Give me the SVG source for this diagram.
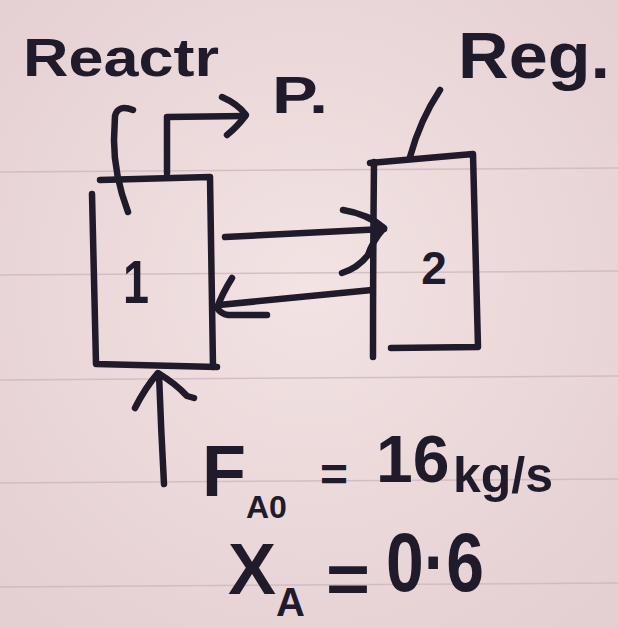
<svg xmlns="http://www.w3.org/2000/svg" width="618" height="628" viewBox="0 0 618 628">
  <defs>
    <radialGradient id="paper" cx="50%" cy="45%" r="70%">
      <stop offset="0" stop-color="#f3e3e3"/>
      <stop offset="1" stop-color="#e4cfd2"/>
    </radialGradient>
    <style>
      .ink { fill: none; stroke: #201b2a; stroke-width: 6.5; stroke-linecap: round; stroke-linejoin: round; }
      .rule { stroke: #c9b3b8; stroke-width: 1.5; opacity: 0.7; }
      .hand { font-family: "Liberation Sans", "DejaVu Sans", sans-serif; font-weight: bold; fill: #201b2a; }
    </style>
  </defs>

  <!-- ruled paper -->
  <rect width="618" height="628" fill="url(#paper)"/>
  <g id="paper-rules">
    <line class="rule" x1="0" y1="172" x2="618" y2="168"/>
    <line class="rule" x1="0" y1="275" x2="618" y2="271"/>
    <line class="rule" x1="0" y1="380" x2="618" y2="376"/>
    <line class="rule" x1="0" y1="483" x2="618" y2="479"/>
    <line class="rule" x1="0" y1="587" x2="618" y2="583"/>
  </g>

  <!-- reactor (unit 1) -->
  <g id="reactor">
    <path class="ink" d="M100,180 L210,177 L213,367"/>
    <path class="ink" d="M92,194 Q94,280 96,364 L217,367"/>
    <text class="hand" x="136" y="303" font-size="62" text-anchor="middle" textLength="26" lengthAdjust="spacingAndGlyphs">1</text>
  </g>

  <!-- regenerator (unit 2) -->
  <g id="regenerator">
    <path class="ink" d="M370,163 L473,154 L478,347 L391,348"/>
    <path class="ink" d="M374,162 Q373,260 373,357"/>
    <text class="hand" x="434" y="284" font-size="46" text-anchor="middle">2</text>
  </g>

  <!-- streams -->
  <g id="connectors">
    <!-- catalyst line rising from the reactor -->
    <path class="ink" d="M128,212 Q114,175 114,140 L115,116 Q118,104 133,110"/>
    <!-- product line to P -->
    <path class="ink" d="M167,173 L167,117 L245,116"/>
    <path class="ink" d="M222,97 Q238,104 246,115 Q238,126 227,135"/>
    <!-- reactor to regenerator -->
    <path class="ink" d="M225,237 L384,229"/>
    <path class="ink" d="M343,210 Q368,214 384,228 Q372,242 368,255 Q358,268 342,273"/>
    <!-- regenerator back to reactor -->
    <path class="ink" d="M372,290 L219,305"/>
    <path class="ink" d="M232,278 Q222,294 217,308 Q221,314 228,315 L267,315"/>
    <!-- feed into reactor bottom -->
    <path class="ink" d="M164,484 Q161,430 159,374"/>
    <path class="ink" d="M135,408 Q145,388 158,373 Q176,384 187,396 L194,398"/>
    <!-- leader to Reg. label -->
    <path class="ink" d="M440,90 Q420,120 410,157"/>
  </g>

  <!-- labels -->
  <g id="labels">
    <text class="hand" x="23" y="76" font-size="54" textLength="196" lengthAdjust="spacingAndGlyphs">Reactr</text>
    <text class="hand" x="272" y="113" font-size="52" textLength="56" lengthAdjust="spacingAndGlyphs">P.</text>
    <text class="hand" x="458" y="78" font-size="64" textLength="152" lengthAdjust="spacingAndGlyphs">Reg.</text>

    <!-- feed rate -->
    <text class="hand" x="202" y="496" font-size="72">F<tspan dy="22" font-size="32">A0</tspan></text>
    <text class="hand" x="320" y="491" font-size="48">=<tspan x="376" y="482" font-size="66">16</tspan><tspan x="453" y="492" font-size="50">kg/s</tspan></text>

    <!-- conversion -->
    <text class="hand" x="228" y="594" font-size="72">X<tspan dy="22" font-size="40">A</tspan></text>
    <text class="hand" x="326" y="603" font-size="70" textLength="44" lengthAdjust="spacingAndGlyphs">=</text>
    <text class="hand" x="386" y="591" font-size="84" textLength="98" lengthAdjust="spacingAndGlyphs">0·6</text>
  </g>
</svg>
